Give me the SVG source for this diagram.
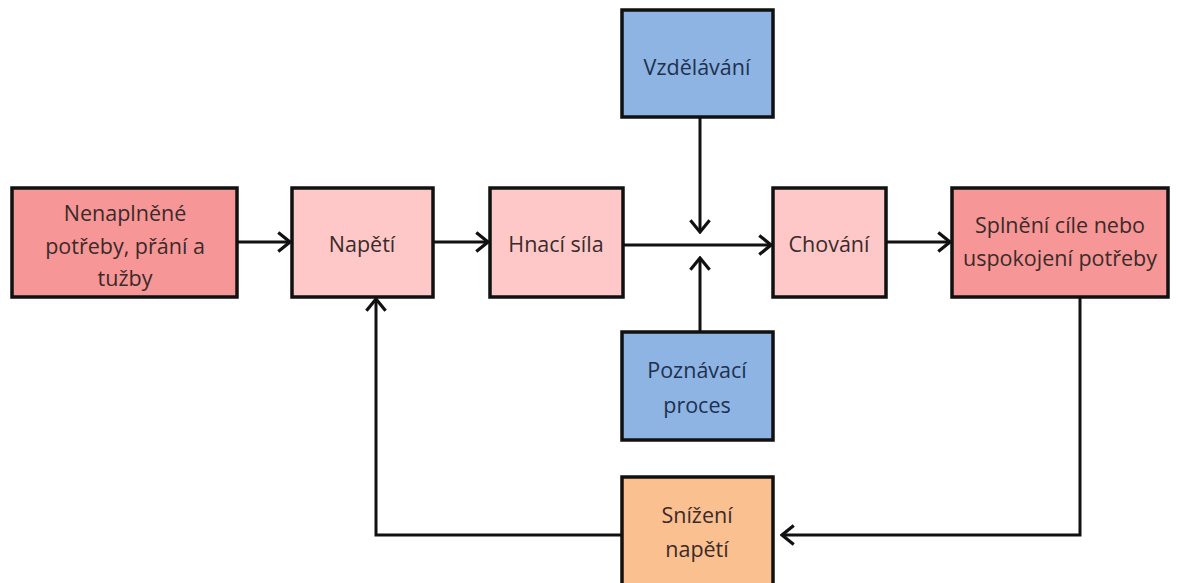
<svg xmlns="http://www.w3.org/2000/svg" width="1178" height="583" viewBox="0 0 1178 583">
<style>
.box{stroke:#111;stroke-width:3.5}
.red{fill:#F79696}
.pink{fill:#FFC8C8}
.blue{fill:#8DB4E2}
.orange{fill:#FAC08F}
text{font-family:"Open Sans","Liberation Sans",sans-serif;font-size:21.5px;fill:#3a2a2a;text-anchor:middle}
.bt{fill:#1F3050}
.c{fill:none;stroke:#111;stroke-width:3}
</style>
<defs>
<marker id="ah" markerUnits="userSpaceOnUse" markerWidth="16" markerHeight="24" viewBox="-13 -11 15 22" refX="0" refY="0" orient="auto">
<path d="M-11,-9 L0,0 L-11,9" fill="none" stroke="#111" stroke-width="3"/>
</marker>
</defs>
<rect width="1178" height="583" fill="#fff"/>
<g id="connectors">
<line class="c" x1="238" y1="242" x2="290" y2="242" marker-end="url(#ah)"/>
<line class="c" x1="433" y1="242" x2="488" y2="242" marker-end="url(#ah)"/>
<line class="c" x1="623" y1="245" x2="771" y2="245" marker-end="url(#ah)"/>
<line class="c" x1="886" y1="242" x2="950" y2="242" marker-end="url(#ah)"/>
<line class="c" x1="700" y1="117" x2="700" y2="232" marker-end="url(#ah)"/>
<line class="c" x1="700" y1="332" x2="700" y2="258" marker-end="url(#ah)"/>
<polyline class="c" points="1080,297 1080,535 782,535" marker-end="url(#ah)"/>
<polyline class="c" points="622,535 376,535 376,299" marker-end="url(#ah)"/>
</g>
<g id="n1"><rect class="box red" x="12" y="188" width="225" height="109"/>
<text x="125" y="221">Nenaplněné</text><text x="125" y="254">potřeby, přání a</text><text x="125" y="286">tužby</text></g>
<g id="n2"><rect class="box pink" x="292" y="188" width="141" height="109"/><text x="362" y="252">Napětí</text></g>
<g id="n3"><rect class="box pink" x="490" y="188" width="133" height="109"/><text x="556" y="252">Hnací síla</text></g>
<g id="n4"><rect class="box blue" x="622" y="10" width="151" height="107"/><text class="bt" x="697" y="75">Vzdělávání</text></g>
<g id="n5"><rect class="box blue" x="622" y="332" width="151" height="108"/><text class="bt" x="697" y="378">Poznávací</text><text class="bt" x="697" y="413">proces</text></g>
<g id="n6"><rect class="box pink" x="773" y="188" width="113" height="109"/><text x="829" y="252">Chování</text></g>
<g id="n7"><rect class="box red" x="952" y="188" width="216" height="109"/><text x="1060" y="233">Splnění cíle nebo</text><text x="1060" y="266">uspokojení potřeby</text></g>
<g id="n8"><rect class="box orange" x="622" y="477" width="151" height="110"/><text x="697" y="523">Snížení</text><text x="697" y="557">napětí</text></g>
</svg>
